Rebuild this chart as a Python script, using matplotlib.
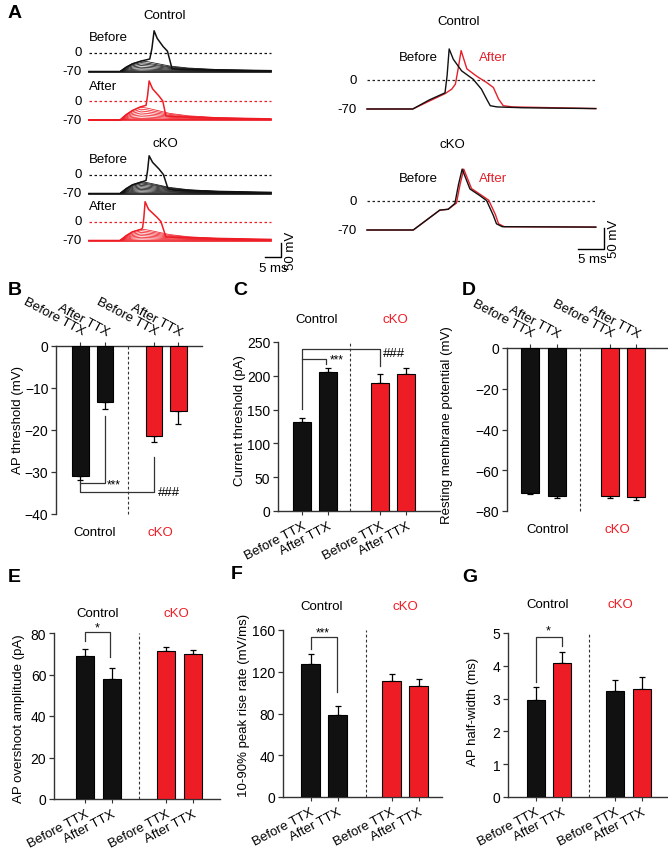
import matplotlib
matplotlib.use('Agg')
import matplotlib.pyplot as plt
import numpy as np

plt.rcParams['font.family'] = ['Liberation Sans', 'DejaVu Sans']
plt.rcParams['axes.linewidth'] = 1.0

W, H = 668, 853
fig = plt.figure(figsize=(W / 100, H / 100), dpi=100)

BLACK = '#111111'
RED = '#ee1c25'
TRED = '#e4202a'
FS = 9.5

# ---------------- Data: panel A (traces; time ms, voltage mV) ----------------
SUB_T = [0, 10, 12, 14, 16.8, 19, 22, 26, 32, 42, 58.7]
SUB_SHAPE = [0, 0, 0.42, 0.75, 1.0, 0.92, 0.75, 0.52, 0.33, 0.18, 0.07]

ctrl_before_sub = [-65, -60, -54, -48, -42, -37, -31]
ctrl_after_sub = [-64, -58, -51, -44, -37, -30, -23]
cko_before_sub = [-65, -60, -55, -50, -45, -40, -35, -31, -27]
cko_after_sub = [-64, -58, -52, -46, -40, -34, -28]

ctrl_before_spk_t = [0, 10, 12, 14, 17, 19.6, 20.3, 21.0, 22.0, 23.9, 25.3, 26.8, 30, 40, 58.7]
ctrl_before_spk_v = [-70, -70, -54, -42, -31, -24, 15, 80, 52, 22, 5, -60, -62, -64, -67]
ctrl_after_spk_t = [0, 10, 12, 14, 16.5, 18.4, 18.9, 19.4, 20.5, 22.6, 23.8, 24.8, 28, 40, 58.7]
ctrl_after_spk_v = [-70, -70, -50, -35, -22, -16, 20, 74, 45, 18, 0, -55, -58, -62, -66]
cko_before_spk_t = [0, 10, 12, 14, 17.4, 18.4, 18.9, 19.4, 20.5, 22.6, 24.0, 25.5, 28, 40, 58.7]
cko_before_spk_v = [-70, -70, -52, -38, -26, -22, 15, 69, 45, 20, 0, -53, -58, -62, -66]
cko_after_spk_t = [0, 10, 12, 14, 17.0, 17.3, 17.7, 18.1, 19.2, 21.9, 23.2, 24.8, 28, 40, 58.7]
cko_after_spk_v = [-70, -70, -52, -38, -28, -22, 15, 73, 45, 16, 0, -57, -58, -62, -66]

# single APs (right side)
r_ctrl_b_t = [0, 8.8, 12, 15.0, 15.4, 15.8, 16.6, 18.2, 20.4, 22.0, 23.0, 23.7, 25, 30, 44]
r_ctrl_b_v = [-70, -70, -48, -31, 10, 75, 50, 22, 2, -22, -46, -62, -65, -67, -69]
r_ctrl_a_t = [0, 8.8, 12.8, 15.0, 16.3, 17.0, 17.5, 18.1, 19.2, 21.1, 23.0, 24.3, 25.3, 26.2, 28, 44]
r_ctrl_a_v = [-70, -70, -46, -33, -22, -10, 25, 71, 27, 9, -6, -18, -46, -62, -65, -69]
r_cko_b_t = [0, 8.9, 14.0, 15.6, 16.9, 17.6, 18.3, 19.8, 21.7, 23.0, 24.3, 24.9, 26, 44]
r_cko_b_v = [-70, -70, -22, -20, -6, 40, 77, 29, 13, 1, -35, -55, -62, -63]
r_cko_a_t = [0, 8.9, 14.0, 15.6, 17.2, 17.9, 18.6, 20.1, 22.0, 23.4, 24.7, 25.3, 26.4, 44]
r_cko_a_v = [-70, -70, -22, -20, -5, 40, 77, 30, 14, 2, -33, -55, -62, -63]

# ---------------- Data: bar panels ----------------
conditions = ['Before TTX', 'After TTX', 'Before TTX', 'After TTX']
groups = ['Control', 'cKO']
positions = [0, 1, 3, 4]

B_mean = [-31.0, -13.3, -21.5, -15.5]
B_sem = [0.9, 1.6, 1.4, 3.1]
C_mean = [132, 205, 190, 202]
C_sem = [5.5, 6.5, 12.5, 10]
D_mean = [-71.0, -72.5, -72.5, -73.0]
D_sem = [0.8, 0.9, 1.0, 1.4]
E_mean = [69.0, 58.0, 71.3, 70.0]
E_sem = [3.5, 5.0, 1.8, 1.8]
F_mean = [127, 78.5, 111, 106]
F_sem = [10, 9, 7, 7]
G_mean = [2.97, 4.10, 3.22, 3.28]
G_sem = [0.38, 0.32, 0.36, 0.37]


def px_axes(left, top, right, bottom):
    ax = fig.add_axes([left / W, 1 - bottom / H, (right - left) / W, (bottom - top) / H])
    ax.patch.set_alpha(0)
    return ax


def ftext(x, y, s, **kw):
    fig.text(x / W, 1 - y / H, s, **kw)


# ---------------- Panel A left ----------------
SL = 19.0 / 70.0   # px per mV
TL = 3.1           # px per ms
TMAX_L = 58.7


def trace_axes_left(y0):
    ax = px_axes(89, y0 - 100 * SL, 89 + TMAX_L * TL, y0 + 80 * SL)
    ax.set_xlim(0, TMAX_L)
    ax.set_ylim(-80, 100)
    ax.axis('off')
    return ax


left_groups = [
    (53.5, ctrl_before_sub, ctrl_before_spk_t, ctrl_before_spk_v, BLACK, 'Before'),
    (102.0, ctrl_after_sub, ctrl_after_spk_t, ctrl_after_spk_v, RED, 'After'),
    (175.5, cko_before_sub, cko_before_spk_t, cko_before_spk_v, BLACK, 'Before'),
    (222.5, cko_after_sub, cko_after_spk_t, cko_after_spk_v, RED, 'After'),
]
last_left = None
for y0, subs, st, sv, col, lab in left_groups:
    ax = trace_axes_left(y0)
    for pk in subs:
        v = [-70 + (pk + 70) * f for f in SUB_SHAPE]
        ax.plot(SUB_T, v, color=col, lw=0.55, clip_on=False)
    ax.plot(st, sv, color=col, lw=1.1, clip_on=False)
    ax.plot([0, TMAX_L], [-70, -70], color=col, lw=1.2, clip_on=False)
    ax.plot([0, TMAX_L], [0, 0], color=col, lw=0.9, ls=(0, (2, 2)), clip_on=False)
    ax.text(-2.3, 0, '0', ha='right', va='center', fontsize=FS)
    ax.text(-2.3, -70, '-70', ha='right', va='center', fontsize=FS)
    ax.text(0, 57, lab, ha='left', va='center', fontsize=FS)
    last_left = ax

# scale bar left
sbx = 61.9
last_left.plot([sbx - 5, sbx, sbx], [-131, -131, -81], color='black', lw=1.0, clip_on=False)
last_left.text(sbx + 1.2, -104, '50 mV', rotation=90, ha='left', va='center', fontsize=FS)
last_left.text(sbx - 2.5, -172, '5 ms', ha='center', va='center', fontsize=FS)

ftext(165, 16, 'Control', ha='center', va='center', fontsize=FS)
ftext(165, 144, 'cKO', ha='center', va='center', fontsize=FS)

# ---------------- Panel A right ----------------
SR = 29.0 / 70.0
TR = 5.2
TMAX_R = 44.0


def trace_axes_right(y0):
    ax = px_axes(367, y0 - 100 * SR, 367 + TMAX_R * TR, y0 + 80 * SR)
    ax.set_xlim(0, TMAX_R)
    ax.set_ylim(-80, 100)
    ax.axis('off')
    return ax


right_groups = [
    (81.0, r_ctrl_b_t, r_ctrl_b_v, r_ctrl_a_t, r_ctrl_a_v),
    (202.0, r_cko_b_t, r_cko_b_v, r_cko_a_t, r_cko_a_v),
]
last_right = None
for y0, bt, bv, at, av in right_groups:
    ax = trace_axes_right(y0)
    ax.plot([0, TMAX_R], [0, 0], color='#222222', lw=0.9, ls=(0, (2, 2)), clip_on=False)
    ax.plot(at, av, color=TRED, lw=1.0, clip_on=False)
    ax.plot(bt, bv, color=BLACK, lw=1.0, clip_on=False)
    ax.text(-2.0, 0, '0', ha='right', va='center', fontsize=FS)
    ax.text(-2.0, -70, '-70', ha='right', va='center', fontsize=FS)
    ax.text(9.9, 56, 'Before', ha='center', va='center', fontsize=FS)
    ax.text(24.2, 56, 'After', ha='center', va='center', fontsize=FS, color=TRED)
    last_right = ax

sbx = (604 - 367) / TR
last_right.plot([sbx - 5, sbx, sbx], [-115, -115, -65], color='black', lw=1.0, clip_on=False)
last_right.text(sbx + 0.7, -90, '50 mV', rotation=90, ha='left', va='center', fontsize=FS)
last_right.text(sbx - 2.3, -140, '5 ms', ha='center', va='center', fontsize=FS)

ftext(459, 22, 'Control', ha='center', va='center', fontsize=FS)
ftext(452, 145, 'cKO', ha='center', va='center', fontsize=FS)


# ---------------- Bar panels ----------------
def bar_panel(rect, xlim, ylim, yticks, means, sems, colors, top_axis=False, dash_x=2.0):
    ax = px_axes(*rect)
    ax.set_xlim(xlim)
    ax.set_ylim(ylim)
    for x, m, s, c in zip(positions, means, sems, colors):
        ax.bar(x, m, width=0.68, color=c, edgecolor='black', linewidth=0.8, zorder=3)
        yerr = [[s], [0]] if m < 0 else [[0], [s]]
        ax.errorbar(x, m, yerr=yerr, fmt='none', ecolor='black', elinewidth=0.9,
                    capsize=2.5, capthick=0.9, zorder=2)
    ax.plot([dash_x, dash_x], list(ylim), color='#333333', lw=0.8, ls=(0, (2.5, 2)),
            clip_on=False, zorder=1)
    ax.set_yticks(yticks)
    ax.set_xticks(positions)
    ax.spines['right'].set_visible(False)
    if top_axis:
        ax.spines['bottom'].set_visible(False)
        ax.xaxis.tick_top()
        ax.set_xticklabels(conditions, rotation=-28, ha='right', va='bottom',
                           rotation_mode='anchor', fontsize=FS)
    else:
        ax.spines['top'].set_visible(False)
        ax.set_xticklabels(conditions, rotation=28, ha='right', va='top',
                           rotation_mode='anchor', fontsize=FS)
    for sp in ax.spines.values():
        sp.set_color('#333333')
    ax.tick_params(axis='y', length=3.5, width=0.9, labelsize=10, pad=2, color='#333333')
    ax.tick_params(axis='x', length=3, width=0.8, pad=3, color='#333333')
    return ax


def bracket(ax, xs, ys):
    ax.plot(xs, ys, color='#333333', lw=0.9, clip_on=False, zorder=4)


cols_std = [BLACK, BLACK, RED, RED]

# Panel B
axB = bar_panel((56, 347, 202, 515), (-1.0, 4.96), (-40, 0), [-40, -30, -20, -10, 0],
                B_mean, B_sem, cols_std, top_axis=True, dash_x=1.94)
bracket(axB, [1, 1, 0], [-16.7, -32.6, -32.6])
bracket(axB, [0, 0, 3, 3], [-32.1, -34.8, -34.8, -26.4])
axB.text(1.08, -32.9, '***', ha='left', va='center', fontsize=8.5)
axB.text(3.15, -34.8, '###', ha='left', va='center', fontsize=FS)
ftext(95, 533, groups[0], ha='center', va='center', fontsize=FS)
ftext(160, 533, groups[1], ha='center', va='center', fontsize=FS, color=RED)
ftext(18, 420, 'AP threshold (mV)', rotation=90, ha='center', va='center', fontsize=FS)

# Panel C
axC = bar_panel((278, 343, 440, 512), (-0.92, 5.3), (0, 250), [0, 50, 100, 150, 200, 250],
                C_mean, C_sem, cols_std, dash_x=1.85)
bracket(axC, [0, 0, 3, 3], [151, 239.6, 239.6, 214.5])
bracket(axC, [0, 0.92, 0.92], [225, 225, 217.5])
axC.text(1.08, 224, '***', ha='left', va='center', fontsize=8.5)
axC.text(3.1, 234, '###', ha='left', va='center', fontsize=FS)
ftext(317, 320, groups[0], ha='center', va='center', fontsize=FS)
ftext(395, 320, groups[1], ha='center', va='center', fontsize=FS, color=RED)
ftext(240, 421, 'Current threshold (pA)', rotation=90, ha='center', va='center', fontsize=FS)

# Panel D
axD = bar_panel((507, 349, 668, 512), (-0.87, 5.2), (-80, 0), [-80, -60, -40, -20, 0],
                D_mean, D_sem, cols_std, top_axis=True, dash_x=1.9)
ftext(548, 530, groups[0], ha='center', va='center', fontsize=FS)
ftext(617, 530, groups[1], ha='center', va='center', fontsize=FS, color=RED)
ftext(447, 425, 'Resting membrane potential (mV)', rotation=90, ha='center', va='center', fontsize=FS)

# Panel E
axE = bar_panel((54, 634, 220, 800), (-1.14, 5.0), (0, 80), [0, 20, 40, 60, 80],
                E_mean, E_sem, cols_std, dash_x=2.0)
bracket(axE, [0, 0, 0.94, 0.94], [76, 80.5, 80.5, 68.4])
axE.text(0.46, 82.5, '*', ha='center', va='center', fontsize=9)
ftext(98, 614, groups[0], ha='center', va='center', fontsize=FS)
ftext(176, 614, groups[1], ha='center', va='center', fontsize=FS, color=RED)
ftext(19, 719, 'AP overshoot amplitude (pA)', rotation=90, ha='center', va='center', fontsize=FS)

# Panel F
axF = bar_panel((283, 631, 442, 798), (-1.02, 4.87), (0, 160), [0, 40, 80, 120, 160],
                F_mean, F_sem, cols_std, dash_x=2.05)
bracket(axF, [0, 0, 0.98, 0.98], [141.8, 153, 153, 100.6])
axF.text(0.46, 158, '***', ha='center', va='center', fontsize=8.5)
ftext(322, 607, groups[0], ha='center', va='center', fontsize=FS)
ftext(405, 607, groups[1], ha='center', va='center', fontsize=FS, color=RED)
ftext(244, 705, '10-90% peak rise rate (mV/ms)', rotation=90, ha='center', va='center', fontsize=FS)

# Panel G
axG = bar_panel((508, 634, 668, 798), (-1.04, 5.0), (0, 5), [0, 1, 2, 3, 4, 5],
                G_mean, G_sem, [BLACK, RED, BLACK, RED], dash_x=2.02)
bracket(axG, [0, 0, 1, 1], [3.5, 4.88, 4.88, 4.6])
axG.text(0.47, 5.08, '*', ha='center', va='center', fontsize=9)
ftext(548, 605, groups[0], ha='center', va='center', fontsize=FS)
ftext(620, 605, groups[1], ha='center', va='center', fontsize=FS, color=RED)
ftext(473, 712, 'AP half-width (ms)', rotation=90, ha='center', va='center', fontsize=FS)

# Panel letters
for lab, x, y in [('A', 8, 13), ('B', 8, 291), ('C', 233, 291), ('D', 462, 291),
                  ('E', 8, 578), ('F', 231, 575), ('G', 462, 578)]:
    ftext(x, y, lab, ha='left', va='center', fontsize=14, fontweight='bold')

fig.savefig('out.png', dpi=100)
